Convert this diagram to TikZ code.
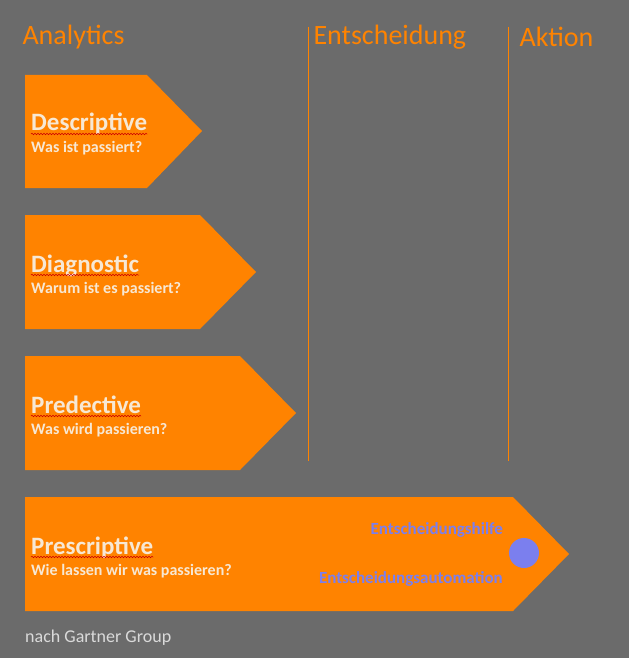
\documentclass[tikz,border=0pt]{standalone}
\usepackage{fontspec}
\setmainfont{Carlito}
\usetikzlibrary{decorations.pathmorphing}
\definecolor{bg}{HTML}{6B6B6B}
\definecolor{org}{HTML}{FF8300}
\definecolor{cream}{HTML}{F7E8D4}
\definecolor{blu}{HTML}{7B7FEE}
\tikzset{
 arrowbox/.style={fill=org,draw=none},
 head/.style={anchor=west,text=org,font=\fontsize{28}{28}\selectfont},
 ttl/.style={anchor=base west,text=cream,font=\bfseries\fontsize{25}{25}\selectfont,inner sep=0},
 sub/.style={anchor=base west,text=cream,font=\bfseries\fontsize{16}{16}\selectfont,inner sep=0},
 dec/.style={anchor=base east,text=blu,font=\bfseries\fontsize{17}{17}\selectfont,inner sep=0},
 sep/.style={draw=org,line width=0.8pt},
 wavy/.style={draw=red!80!black,line width=0.5pt,decorate,decoration={snake,amplitude=0.8,segment length=3}}
}
\begin{document}
\begin{tikzpicture}[x=1pt,y=-1pt]
\fill[bg] (0,0) rectangle (629,658);
\useasboundingbox (0,0) rectangle (629,658);
\node[head] (h1) at (19,37) {Analytics};
\node[head] (h2) at (310,37) {Entscheidung};
\node[head] (h3) at (516,37) {Aktion};
\draw[sep] (308,27) -- (308,461);
\draw[sep] (508,27) -- (508,461);
\fill[arrowbox] (25,75) -- (147,75) -- (202,131) -- (147,188) -- (25,188) -- cycle;
\fill[arrowbox] (25,215) -- (200,215) -- (256,272) -- (200,329) -- (25,329) -- cycle;
\fill[arrowbox] (25,356) -- (240,356) -- (296,413) -- (240,470) -- (25,470) -- cycle;
\fill[arrowbox] (25,497) -- (513,497) -- (569,554) -- (513,611) -- (25,611) -- cycle;
\node[ttl] (t1) at (31,131) {Descriptive};
\node[sub] (s1) at (31,152) {Was ist passiert?};
\node[ttl] (t2) at (31,272) {Diagnostic};
\node[sub] (s2) at (31,293) {Warum ist es passiert?};
\node[ttl] (t3) at (31,413) {Predective};
\node[sub] (s3) at (31,434) {Was wird passieren?};
\node[ttl] (t4) at (31,554) {Prescriptive};
\node[sub] (s4) at (31,575) {Wie lassen wir was passieren?};
\foreach \n in {t1,t2,t3,t4}{\draw[wavy] ([yshift=-3]\n.base west) -- ([yshift=-3]\n.base east);}
\node[dec] (e1) at (503,534) {Entscheidungshilfe};
\node[dec] (e2) at (503,583) {Entscheidungsautomation};
\fill[blu] (524,553) circle (15);
\node[anchor=base west,inner sep=0,text=white!75!bg,font=\fontsize{18}{18}\selectfont] (g) at (25,642) {nach Gartner Group};
\end{tikzpicture}
\end{document}
